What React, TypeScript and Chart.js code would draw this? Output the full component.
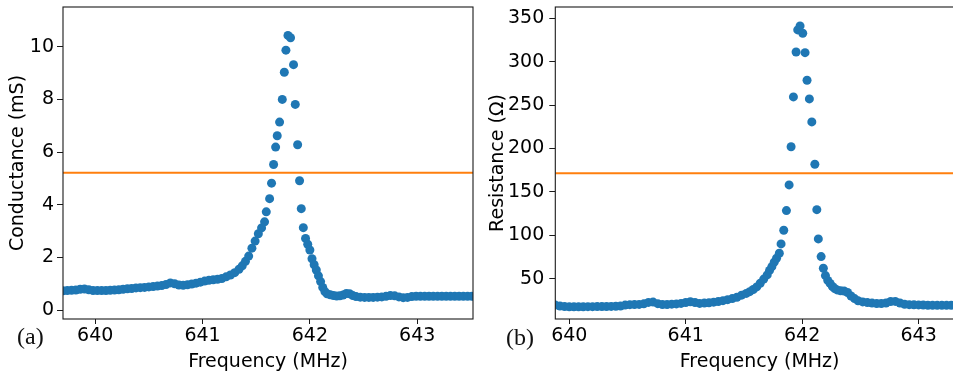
import React, { useEffect, useRef } from "react";
import { Chart, registerables } from "chart.js";

Chart.register(...registerables);

// ---- Panel (a): Conductance ----
const freqG = [
  639.66, 639.70, 639.74, 639.78, 639.82, 639.86, 639.90, 639.94, 639.98, 640.02,
  640.06, 640.10, 640.14, 640.18, 640.22, 640.26, 640.30, 640.34, 640.38, 640.42,
  640.46, 640.50, 640.54, 640.58, 640.62, 640.66, 640.70, 640.74, 640.78, 640.82,
  640.86, 640.90, 640.94, 640.98, 641.02, 641.06, 641.10, 641.14, 641.18, 641.22,
  641.26, 641.30, 641.34, 641.37, 641.40, 641.43, 641.46, 641.49, 641.52, 641.55,
  641.578, 641.594, 641.625, 641.643, 641.662, 641.681, 641.696, 641.718, 641.743, 641.762,
  641.777, 641.796, 641.820, 641.848, 641.864, 641.886, 641.904, 641.920, 641.939, 641.960,
  641.98, 642.00, 642.02, 642.04, 642.06, 642.08, 642.10, 642.12, 642.14, 642.16,
  642.19, 642.22, 642.25, 642.28, 642.31, 642.34, 642.37, 642.40, 642.43, 642.47,
  642.51, 642.55, 642.59, 642.63, 642.67, 642.71, 642.75, 642.79, 642.83, 642.87,
  642.91, 642.95, 642.99, 643.03, 643.07, 643.11, 643.15, 643.19, 643.23, 643.27,
  643.31, 643.35, 643.39, 643.43, 643.47, 643.51, 643.55,
];
const condG = [
  0.72, 0.73, 0.74, 0.75, 0.76, 0.79, 0.80, 0.77, 0.74, 0.74,
  0.74, 0.74, 0.75, 0.76, 0.77, 0.79, 0.81, 0.82, 0.84, 0.85,
  0.86, 0.88, 0.89, 0.91, 0.93, 0.97, 1.03, 1.00, 0.95, 0.94,
  0.96, 0.99, 1.02, 1.06, 1.10, 1.13, 1.15, 1.17, 1.20, 1.26,
  1.33, 1.42, 1.55, 1.68, 1.85, 2.05, 2.35, 2.62, 2.90, 3.12,
  3.35, 3.73, 4.23, 4.82, 5.53, 6.19, 6.62, 7.14, 8.00, 9.03,
  9.87, 10.43, 10.34, 9.32, 7.81, 6.28, 4.91, 3.85, 3.13, 2.72,
  2.50, 2.28, 1.95, 1.72, 1.52, 1.30, 1.08, 0.86, 0.70, 0.62,
  0.58, 0.55, 0.53, 0.54, 0.57, 0.63, 0.62, 0.55, 0.51, 0.49,
  0.48, 0.48, 0.48, 0.49, 0.50, 0.52, 0.55, 0.54, 0.50, 0.47,
  0.48, 0.51, 0.52, 0.52, 0.52, 0.52, 0.52, 0.52, 0.52, 0.52,
  0.52, 0.52, 0.52, 0.52, 0.52, 0.52, 0.52,
];
const thresholdG = 5.21;
const xTicksG = [640, 641, 642, 643];
const yTicksG = [0, 2, 4, 6, 8, 10];

// ---- Panel (b): Resistance ----
const freqR = [
  639.84, 639.88, 639.92, 639.96, 640.00, 640.04, 640.08, 640.12, 640.16, 640.20,
  640.24, 640.28, 640.32, 640.36, 640.40, 640.44, 640.48, 640.52, 640.56, 640.60,
  640.64, 640.68, 640.72, 640.76, 640.80, 640.84, 640.88, 640.92, 640.96, 641.00,
  641.04, 641.08, 641.12, 641.16, 641.20, 641.24, 641.28, 641.32, 641.36, 641.40,
  641.44, 641.48, 641.52, 641.55, 641.58, 641.61, 641.64, 641.67, 641.70, 641.72,
  641.74, 641.76, 641.78, 641.804, 641.819, 641.842, 641.865, 641.888, 641.905, 641.925,
  641.948, 641.962, 641.982, 642.005, 642.025, 642.042, 642.062, 642.083, 642.109, 642.126,
  642.139, 642.163, 642.182, 642.20, 642.22, 642.24, 642.26, 642.28, 642.30, 642.33,
  642.36, 642.39, 642.42, 642.45, 642.48, 642.52, 642.56, 642.60, 642.64, 642.68,
  642.72, 642.76, 642.80, 642.84, 642.88, 642.92, 642.96, 643.00, 643.04, 643.08,
  643.12, 643.16, 643.20, 643.24, 643.28, 643.32, 643.36, 643.40,
];
const resR = [
  19.5, 19.5, 18.5, 17.8, 17.6, 17.6, 17.6, 17.6, 17.7, 17.7,
  17.8, 17.8, 17.9, 18.0, 18.2, 18.4, 19.5, 20.0, 20.1, 20.3,
  21.0, 22.6, 23.0, 21.2, 20.2, 20.2, 20.6, 20.9, 21.5, 22.5,
  23.4, 22.5, 21.5, 21.8, 22.2, 22.9, 23.6, 24.6, 25.8, 27.0,
  28.6, 31.0, 33.0, 35.0, 37.5, 40.5, 44.7, 49.5, 54.3, 59.5,
  63.8, 69.0, 73.5, 79.3, 90.0, 105.7, 128.4, 158.0, 202.0, 259.4,
  311.2, 336.6, 341.2, 332.8, 310.4, 278.6, 257.1, 230.6, 181.8, 129.5,
  95.8, 75.4, 62.0, 53.5, 48.0, 44.5, 41.0, 38.5, 37.0, 36.0,
  35.8, 34.0, 30.0, 27.0, 24.5, 23.2, 22.4, 21.8, 21.3, 21.3,
  22.0, 23.6, 23.8, 22.0, 20.5, 20.0, 19.8, 19.7, 19.6, 19.4,
  19.2, 19.2, 19.2, 19.2, 19.2, 19.2, 19.2, 19.2,
];
const thresholdR = 171.5;
const xTicksR = [640, 641, 642, 643];
const yTicksR = [50, 100, 150, 200, 250, 300, 350];

type Panel = {
  xs: number[];
  ys: number[];
  threshold: number;
  xTicks: number[];
  yTicks: number[];
  xMin: number;
  xMax: number;
  yMin: number;
  yMax: number;
  yTitle: string;
  tag: string;
  tagX: number;
  tagY: number;
  yAxisWidth: number;
  padRight: number;
  yTickPad: number;
};

const TEXT = "#000";
const FONT = { family: "'DejaVu Sans'", size: 19 };

function makeChart(canvas: HTMLCanvasElement, p: Panel) {
  const boxPlugin = {
    id: "boxAndTag",
    afterDraw(chart: any) {
      const { ctx, chartArea } = chart;
      ctx.save();
      ctx.strokeStyle = "#1a1a1a";
      ctx.lineWidth = 1.1;
      ctx.strokeRect(chartArea.left, chartArea.top, chartArea.right - chartArea.left, chartArea.bottom - chartArea.top);
      ctx.fillStyle = "#111";
      ctx.font = "24px 'Liberation Serif'";
      ctx.textBaseline = "alphabetic";
      ctx.textAlign = "left";
      ctx.fillText(p.tag, p.tagX, p.tagY);
      ctx.restore();
    },
  };

  return new Chart(canvas, {
    type: "scatter",
    data: {
      datasets: [
        {
          type: "line",
          data: [
            { x: p.xMin, y: p.threshold },
            { x: p.xMax, y: p.threshold },
          ],
          borderColor: "#ff7f0e",
          borderWidth: 2,
          pointRadius: 0,
          order: 0,
        } as any,
        {
          type: "scatter",
          data: p.xs.map((x, i) => ({ x, y: p.ys[i] })),
          backgroundColor: "#1f77b4",
          borderWidth: 0,
          pointRadius: 4.5,
          pointHoverRadius: 4.5,
          clip: 0,
          order: 1,
        } as any,
      ],
    },
    options: {
      animation: false,
      responsive: false,
      devicePixelRatio: 1,
      events: [],
      layout: { padding: { left: 0, top: 7, right: p.padRight, bottom: 0 } },
      plugins: { legend: { display: false }, tooltip: { enabled: false } },
      scales: {
        x: {
          type: "linear",
          min: p.xMin,
          max: p.xMax,
          afterBuildTicks: (s: any) => {
            s.ticks = p.xTicks.map((v) => ({ value: v }));
          },
          afterFit: (s: any) => {
            s.height = 58;
            s.paddingLeft = 0;
            s.paddingRight = 0;
          },
          grid: { drawOnChartArea: false, drawTicks: true, tickLength: 5, color: "#1a1a1a", lineWidth: 1 },
          border: { display: false },
          ticks: { font: FONT, color: TEXT, padding: 1, maxRotation: 0, autoSkip: false, callback: (v: any) => String(v) },
          title: { display: true, text: "Frequency (MHz)", font: FONT, color: TEXT, padding: { top: 0, bottom: 3.9 } },
        },
        y: {
          type: "linear",
          min: p.yMin,
          max: p.yMax,
          afterBuildTicks: (s: any) => {
            s.ticks = p.yTicks.map((v) => ({ value: v }));
          },
          afterFit: (s: any) => {
            s.width = p.yAxisWidth;
            s.paddingTop = 0;
            s.paddingBottom = 0;
          },
          grid: { drawOnChartArea: false, drawTicks: true, tickLength: 6, color: "#1a1a1a", lineWidth: 1 },
          border: { display: false },
          ticks: { font: FONT, color: TEXT, padding: p.yTickPad, autoSkip: false, callback: (v: any) => String(v) },
          title: { display: true, text: p.yTitle, font: FONT, color: TEXT, padding: { top: 6.9, bottom: 0 } },
        },
      },
    },
    plugins: [boxPlugin],
  } as any);
}

function PanelChart({ p, left, width }: { p: Panel; left: number; width: number }) {
  const ref = useRef<HTMLCanvasElement | null>(null);
  useEffect(() => {
    if (!ref.current) return;
    const chart = makeChart(ref.current, p);
    return () => chart.destroy();
  }, []);
  return (
    <canvas
      ref={ref}
      width={width}
      height={377}
      style={{ position: "absolute", left, top: 0, width, height: 377 }}
    />
  );
}

const panelA: Panel = {
  xs: freqG,
  ys: condG,
  threshold: thresholdG,
  xTicks: xTicksG,
  yTicks: yTicksG,
  xMin: 639.7,
  xMax: 643.52,
  yMin: -0.34,
  yMax: 11.51,
  yTitle: "Conductance (mS)",
  tag: "(a)",
  tagX: 17,
  tagY: 344,
  yAxisWidth: 63,
  padRight: 7,
  yTickPad: 3,
};

const panelB: Panel = {
  xs: freqR,
  ys: resR,
  threshold: thresholdR,
  xTicks: xTicksR,
  yTicks: yTicksR,
  xMin: 639.88,
  xMax: 643.39,
  yMin: 3.5,
  yMax: 363,
  yTitle: "Resistance (Ω)",
  tag: "(b)",
  tagX: 26,
  tagY: 345,
  yAxisWidth: 75.3,
  padRight: 6,
  yTickPad: 5,
};

export default function App() {
  return (
    <div
      style={{
        position: "absolute",
        left: 0,
        top: 0,
        width: 953,
        height: 377,
        overflow: "hidden",
        background: "#fff",
      }}
    >
      <PanelChart p={panelA} left={0} width={480} />
      <PanelChart p={panelB} left={480} width={490} />
    </div>
  );
}
